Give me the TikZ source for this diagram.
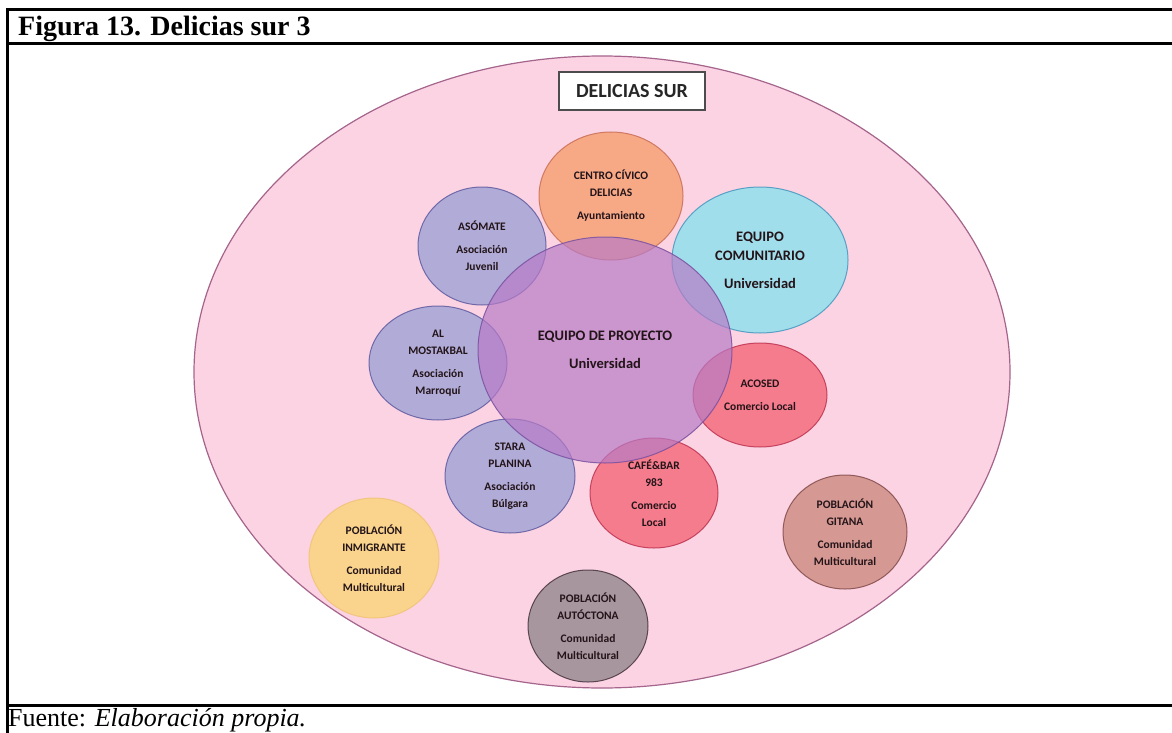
\documentclass[tikz,border=0pt]{standalone}
\usepackage{fontspec}
\setmainfont{Liberation Serif}
\newfontfamily\labfont{Carlito}
\usetikzlibrary{shapes.geometric}
\definecolor{bgpink}{RGB}{251,211,227}
\definecolor{bgline}{RGB}{165,100,140}
\definecolor{lavC}{RGB}{153,159,211}
\definecolor{lavD}{RGB}{95,90,160}
\definecolor{purC}{RGB}{183,123,198}
\definecolor{purD}{RGB}{120,80,160}
\definecolor{oraC}{RGB}{246,156,104}
\definecolor{oraD}{RGB}{200,110,85}
\definecolor{cyaC}{RGB}{132,226,239}
\definecolor{cyaD}{RGB}{70,150,190}
\definecolor{redC}{RGB}{244,96,111}
\definecolor{redD}{RGB}{190,50,80}
\definecolor{yelC}{RGB}{250,212,140}
\definecolor{yelD}{RGB}{240,195,120}
\definecolor{autC}{RGB}{168,150,158}
\definecolor{autD}{RGB}{70,50,62}
\definecolor{gitC}{RGB}{214,152,146}
\definecolor{gitD}{RGB}{130,75,75}
\definecolor{txt}{RGB}{35,20,25}
\begin{document}
\begin{tikzpicture}[x=1pt,y=-1pt,
  bubble/.style={ellipse, inner sep=0pt, align=center, text=txt, text opacity=1,
    font=\labfont\bfseries\fontsize{11.5}{17}\selectfont, line width=1pt,
    fill opacity=0.75, draw opacity=0.85},
  bigtext/.style={font=\labfont\bfseries\fontsize{14.5}{19}\selectfont},
  frameline/.style={line width=3pt, black}]
\useasboundingbox (0,0) rectangle (1172,733);
\fill[white] (0,0) rectangle (1172,733);
% frame
\coordinate (tl) at (7,10);
\coordinate (tr) at (1172,10);
\coordinate (ml) at (7,44);
\coordinate (mr) at (1172,44);
\coordinate (bl) at (7,705);
\coordinate (br) at (1172,705);
\coordinate (bb) at (7,733);
\draw[frameline] (tl) -- (tr);
\draw[frameline] (ml) -- (mr);
\draw[frameline] (bl) -- (br);
\draw[frameline] ([yshift=1.5pt]tl) -- (bb);
\node[anchor=base west, inner sep=0pt] (title) at (18,36) {\fontsize{28}{30}\selectfont\bfseries Figura 13. Delicias sur 3};
\node[anchor=base west, inner sep=0pt] (foot) at (8,726) {\fontsize{26}{30}\selectfont Fuente: \textit{Elaboración propia.}};
% big ellipse
\node[ellipse, fill=bgpink, draw=bgline, line width=1.2pt, minimum width=816pt, minimum height=632pt, inner sep=0pt] (zone) at (602,372) {};
\node[draw=black!70, fill=white, line width=1.3pt, minimum width=146pt, minimum height=38pt, inner sep=0pt,
  font=\labfont\bfseries\fontsize{20}{22}\selectfont, text=black!85] (title2) at (632,91) {DELICIAS SUR};
% satellite circles
\node[bubble, fill=lavC, draw=lavD, minimum width=128pt, minimum height=118pt] (asomate) at (482,246) {ASÓMATE\\[6pt]Asociación\\Juvenil};
\node[bubble, fill=lavC, draw=lavD, minimum width=138pt, minimum height=114pt] (mostakbal) at (438,363) {AL\\MOSTAKBAL\\[6pt]Asociación\\Marroquí};
\node[bubble, fill=lavC, draw=lavD, minimum width=130pt, minimum height=114pt] (stara) at (510,476) {STARA\\PLANINA\\[6pt]Asociación\\Búlgara};
\node[bubble, fill=oraC, draw=oraD, minimum width=144pt, minimum height=128pt] (centro) at (611,196) {CENTRO CÍVICO\\DELICIAS\\[6pt]Ayuntamiento};
\node[bubble, bigtext, fill=cyaC, draw=cyaD, minimum width=176pt, minimum height=146pt] (comunitario) at (760,260) {EQUIPO\\COMUNITARIO\\[9pt]Universidad};
\node[bubble, fill=redC, draw=redD, minimum width=134pt, minimum height=104pt] (acosed) at (760,395) {ACOSED\\[6pt]Comercio Local};
\node[bubble, fill=redC, draw=redD, minimum width=128pt, minimum height=110pt] (cafe) at (654,493) {CAFÉ\&BAR\\983\\[6pt]Comercio\\Local};
\node[bubble, bigtext, fill=purC, draw=purD, fill opacity=0.7, minimum width=254pt, minimum height=226pt] (proyecto) at (605,350) {EQUIPO DE PROYECTO\\[9pt]Universidad};
% outer circles
\node[bubble, fill=yelC, draw=yelD, fill opacity=1, minimum width=130pt, minimum height=120pt] (inmigrante) at (374,558) {POBLACIÓN\\INMIGRANTE\\[6pt]Comunidad\\Multicultural};
\node[bubble, fill=autC, draw=autD, fill opacity=1, minimum width=120pt, minimum height=112pt] (autoctona) at (588,626) {POBLACIÓN\\AUTÓCTONA\\[6pt]Comunidad\\Multicultural};
\node[bubble, fill=gitC, draw=gitD, fill opacity=1, minimum width=124pt, minimum height=114pt] (gitana) at (845,532) {POBLACIÓN\\GITANA\\[6pt]Comunidad\\Multicultural};
\end{tikzpicture}
\end{document}
